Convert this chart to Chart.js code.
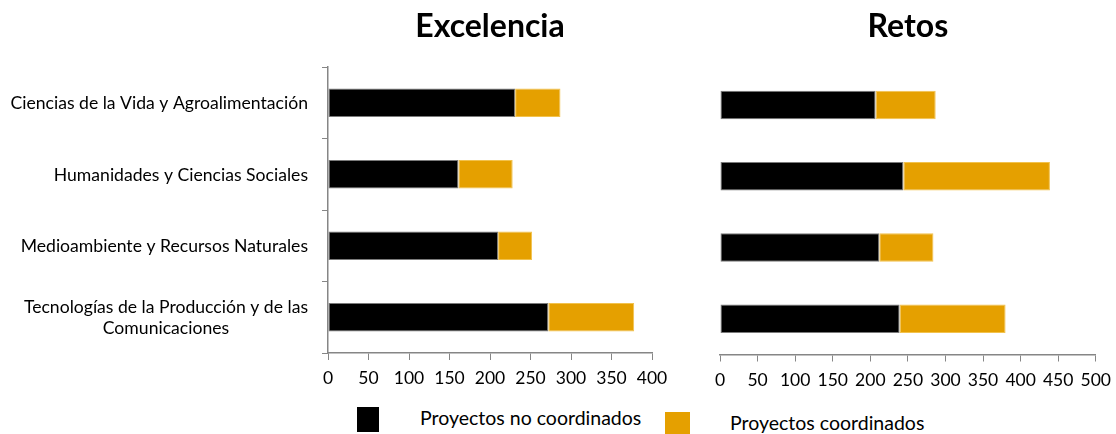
<!DOCTYPE html>
<html><head><meta charset="utf-8">
<script src="https://cdn.jsdelivr.net/npm/chart.js@4/dist/chart.umd.min.js"></script>
<style>
html,body{margin:0;padding:0;background:#fff;width:1116px;height:434px;overflow:hidden;font-family:Lato,sans-serif;position:relative}
#c1wrap{position:absolute;left:0;top:0;width:680px;height:400px}
#c2wrap{position:absolute;left:680px;top:0;width:439px;height:400px}
.sw{position:absolute}
.lt{position:absolute;font-size:19.5px;color:#000;line-height:22px;white-space:nowrap}
</style></head><body>
<div id="c1wrap"><canvas id="c1"></canvas></div>
<div id="c2wrap"><canvas id="c2"></canvas></div>
<div class="sw" id="s1" style="left:357px;top:407px;width:22px;height:25px"></div>
<div class="lt" id="l1" style="left:420px;top:407px"></div>
<div class="sw" id="s2" style="left:665px;top:412px;width:25px;height:22px"></div>
<div class="lt" id="l2" style="left:730px;top:412px"></div>
<script>
// ---- data ----
const categories = [
  "Ciencias de la Vida y Agroalimentación",
  "Humanidades y Ciencias Sociales",
  "Medioambiente y Recursos Naturales",
  ["Tecnologías de la Producción y de las", "Comunicaciones"]
];
const seriesNames = ["Proyectos no coordinados", "Proyectos coordinados"];
const chartTitles = ["Excelencia", "Retos"];
const excelenciaNoCoord = [231, 161, 210, 272];
const excelenciaCoord   = [56, 67, 42, 106];
const retosNoCoord      = [207, 244, 212, 239];
const retosCoord        = [80, 195, 72, 141];
const excelenciaMax = 400;
const retosMax = 500;
const tickStep = 50;

// ---- styles ----
const BLACK = '#000000';
const ORANGE = '#E5A000';
const AXIS = '#868686';
const FONT = 'Lato';

document.getElementById('s1').style.background = BLACK;
document.getElementById('s2').style.background = ORANGE;
document.getElementById('l1').textContent = seriesNames[0];
document.getElementById('l2').textContent = seriesNames[1];

const yLabelPlugin = {
  id: 'yLabels',
  afterDraw(chart) {
    if (!chart.options.plugins.yLabels || !chart.options.plugins.yLabels.show) return;
    const ys = chart.scales.y;
    const ctx = chart.ctx;
    ctx.save();
    ctx.font = '17.6px ' + FONT;
    ctx.fillStyle = '#000';
    ctx.textBaseline = 'middle';
    ctx.textAlign = 'center';
    const right = ys.right - 20;
    const lh = 21;
    categories.forEach((lab, i) => {
      const lines = Array.isArray(lab) ? lab : [lab];
      const w = Math.max(...lines.map(l => ctx.measureText(l).width));
      const cx = right - w / 2;
      const cy = ys.getPixelForValue(i);
      lines.forEach((l, j) => ctx.fillText(l, cx, cy + (j - (lines.length - 1) / 2) * lh + 1));
    });
    ctx.restore();
  }
};

function makeChart(id, title, noCoord, coord, max, opts) {
  return new Chart(document.getElementById(id), {
    type: 'bar',
    data: {
      labels: categories,
      datasets: [
        { label: seriesNames[0], data: noCoord, backgroundColor: BLACK, borderColor: '#7a7a7a', borderWidth: 1, borderSkipped: false },
        { label: seriesNames[1], data: coord, backgroundColor: ORANGE, borderColor: '#f2c24d', borderWidth: 1, borderSkipped: false }
      ]
    },
    options: {
      indexAxis: 'y',
      responsive: true,
      maintainAspectRatio: false,
      animation: false,
      layout: { padding: opts.padding },
      datasets: { bar: { categoryPercentage: 1, barPercentage: 0.4 } },
      plugins: {
        legend: { display: false },
        tooltip: { enabled: false },
        yLabels: { show: opts.showY },
        title: {
          display: true, text: title, fullSize: false, color: '#000',
          font: { family: FONT, size: 32, weight: 'bold' },
          padding: { top: 7, bottom: opts.titleBottom }
        }
      },
      scales: {
        x: {
          stacked: true, min: 0, max: max,
          ticks: { stepSize: tickStep, color: '#000', font: { family: FONT, size: 17.5 }, padding: 8, maxRotation: 0 },
          grid: { display: true, drawOnChartArea: false, drawTicks: true, tickLength: 7, color: AXIS },
          border: { display: true, color: AXIS, width: 1.5 }
        },
        y: {
          stacked: true,
          display: opts.showY,
          ticks: { display: false },
          grid: { display: true, drawOnChartArea: false, drawTicks: true, tickLength: 6, color: AXIS, offset: true },
          border: { display: true, color: AXIS, width: 1.5 },
          afterFit: opts.showY ? (s) => { s.width = 328; } : undefined
        }
      }
    },
    plugins: [yLabelPlugin]
  });
}

makeChart('c1', chartTitles[0], excelenciaNoCoord, excelenciaCoord, excelenciaMax,
  { showY: true, titleBottom: 21.6, padding: { left: 0, right: 28, top: 0, bottom: 3 } });
makeChart('c2', chartTitles[1], retosNoCoord, retosCoord, retosMax,
  { showY: false, titleBottom: 24, padding: { left: 40, right: 17, top: 0, bottom: 1.5 } });
</script>
</body></html>
